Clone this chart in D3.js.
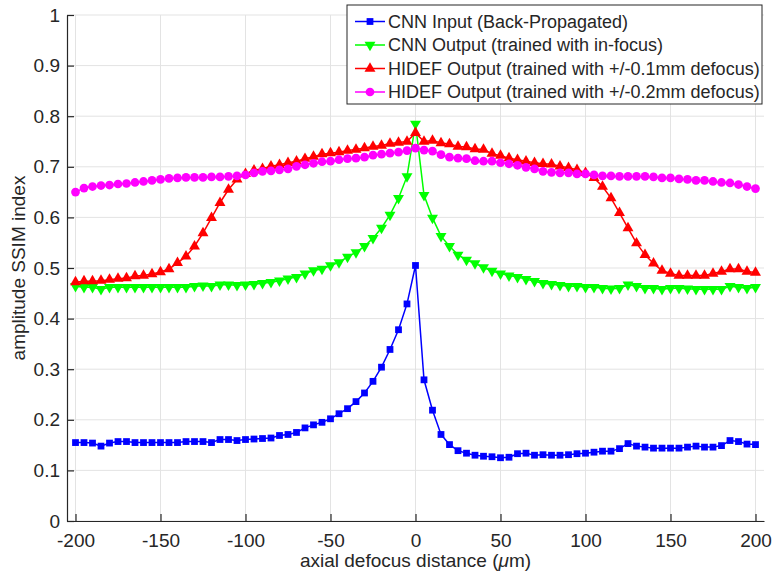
<!DOCTYPE html>
<html>
<head>
<meta charset="utf-8">
<script src="https://cdn.jsdelivr.net/npm/d3@7"></script>
<style>
  body { margin: 0; background: #fff; }
  text { font-family: "Liberation Sans", Arial, sans-serif; fill: #262626; }
</style>
</head>
<body>
<script>
// axial defocus positions (um)
var defocus = [-200,-195,-190,-185,-180,-175,-170,-165,-160,-155,-150,-145,-140,-135,-130,-125,-120,-115,-110,-105,
  -100,-95,-90,-85,-80,-75,-70,-65,-60,-55,-50,-45,-40,-35,-30,-25,-20,-15,-10,-5,
  0,5,10,15,20,25,30,35,40,45,50,55,60,65,70,75,80,85,90,95,
  100,105,110,115,120,125,130,135,140,145,150,155,160,165,170,175,180,185,190,195,200];

var cnnInput = [.155,.155,.154,.148,.154,.157,.157,.155,.155,.155,.155,.155,.155,.157,.157,.157,.155,.161,.161,.159,
  .161,.162,.163,.164,.169,.171,.175,.184,.190,.195,.202,.212,.222,.236,.253,.276,.304,.339,.378,.429,
  .505,.279,.219,.171,.151,.139,.134,.130,.128,.127,.125,.126,.133,.134,.130,.131,.130,.130,.131,.133,
  .134,.136,.138,.138,.143,.153,.148,.146,.144,.144,.144,.144,.146,.148,.146,.146,.149,.159,.157,.152,.151];

var cnnOutput = [.464,.462,.462,.458,.462,.462,.462,.462,.462,.462,.462,.462,.462,.462,.464,.465,.464,.467,.467,.466,
  .467,.468,.470,.472,.475,.479,.482,.489,.495,.498,.505,.511,.522,.531,.543,.559,.579,.605,.638,.681,
  .785,.644,.599,.563,.543,.526,.516,.509,.501,.494,.489,.485,.482,.478,.474,.470,.468,.466,.464,.464,
  .462,.462,.460,.459,.460,.467,.464,.460,.460,.458,.460,.460,.459,.458,.458,.458,.458,.464,.462,.460,.462];

var hidef01 = [.472,.474,.474,.475,.477,.479,.480,.484,.485,.488,.492,.498,.510,.523,.543,.569,.599,.629,.655,.675,
  .686,.693,.696,.701,.704,.708,.711,.716,.720,.725,.727,.729,.732,.734,.737,.740,.742,.746,.748,.750,
  .767,.750,.752,.747,.745,.740,.739,.735,.734,.726,.722,.717,.714,.711,.708,.706,.705,.701,.698,.694,
  .688,.678,.661,.638,.609,.579,.549,.526,.509,.495,.489,.485,.485,.485,.485,.489,.493,.498,.498,.493,.491];

var hidef02 = [.650,.658,.661,.663,.664,.666,.667,.669,.671,.673,.675,.677,.678,.679,.679,.679,.680,.680,.681,.682,
  .684,.688,.691,.692,.694,.696,.701,.704,.707,.710,.711,.714,.716,.717,.719,.723,.725,.727,.729,.732,
  .737,.733,.731,.724,.719,.717,.716,.712,.711,.711,.708,.706,.703,.699,.696,.691,.689,.688,.688,.686,
  .686,.684,.682,.682,.681,.681,.681,.681,.680,.678,.678,.676,.675,.673,.673,.671,.669,.668,.665,.661,.657];

var seriesNames = ["CNN Input (Back-Propagated)", "CNN Output (trained with in-focus)",
  "HIDEF Output (trained with +/-0.1mm defocus)", "HIDEF Output (trained with +/-0.2mm defocus)"];
var seriesColors = ["#0000ff", "#00ff00", "#ff0000", "#ff00ff"];

var xTicks = [-200,-150,-100,-50,0,50,100,150,200];
var yTicks = [0,0.1,0.2,0.3,0.4,0.5,0.6,0.7,0.8,0.9,1];

window.onload = function() {
  var margin = {top: 15, right: 8, bottom: 61, left: 67};
  var width = 772 - margin.left - margin.right;
  var height = 582 - margin.top - margin.bottom;

  var svg = d3.select("body").append("svg")
    .attr("width", 772)
    .attr("height", 582)
    .append("g")
    .attr("transform", "translate(" + margin.left + "," + margin.top + ")");

  var x = d3.scaleLinear().domain([-205, 205]).range([0, width]);
  var y = d3.scaleLinear().domain([0, 1]).range([height, 0]);

  // grid
  svg.append("g").selectAll("line.gx")
    .data(xTicks).enter().append("line")
    .attr("x1", function(d) { return x(d); }).attr("x2", function(d) { return x(d); })
    .attr("y1", 0).attr("y2", height)
    .attr("stroke", "#e3e3e3").attr("stroke-width", 1);
  svg.append("g").selectAll("line.gy")
    .data(yTicks).enter().append("line")
    .attr("x1", 0).attr("x2", width)
    .attr("y1", function(d) { return y(d); }).attr("y2", function(d) { return y(d); })
    .attr("stroke", "#e3e3e3").attr("stroke-width", 1);

  // axes (matlab style: ticks inside, plain hyphen minus)
  var xAxis = svg.append("g")
    .attr("transform", "translate(0," + height + ")")
    .call(d3.axisBottom(x).tickValues(xTicks).tickSizeInner(-7).tickSizeOuter(0).tickPadding(13)
      .tickFormat(function(d) { return String(d); }));
  var yAxis = svg.append("g")
    .call(d3.axisLeft(y).tickValues(yTicks).tickSizeInner(-7).tickSizeOuter(0).tickPadding(7)
      .tickFormat(function(d) { return d === 0 || d === 1 ? String(d) : d3.format(".1f")(d); }));
  [xAxis, yAxis].forEach(function(a) {
    a.select(".domain").attr("stroke", "#262626").attr("stroke-width", 1.2);
    a.selectAll(".tick line").attr("stroke", "#262626").attr("stroke-width", 1.2);
    a.selectAll(".tick text").style("font-size", "19px").attr("fill", "#262626")
      .style("font-family", "'Liberation Sans', Arial, sans-serif");
  });

  // series
  var allSeries = [cnnInput, cnnOutput, hidef01, hidef02];
  var symbols = [
    d3.symbol().type(d3.symbolSquare).size(46),
    d3.symbol().type(d3.symbolTriangle).size(52),
    d3.symbol().type(d3.symbolTriangle).size(52),
    d3.symbol().type(d3.symbolCircle).size(60)
  ];
  var rotations = [0, 180, 0, 0];

  var line = d3.line()
    .x(function(d) { return x(d[0]); })
    .y(function(d) { return y(d[1]); });

  allSeries.forEach(function(vals, k) {
    var pts = defocus.map(function(d, i) { return [d, vals[i]]; });
    var g = svg.append("g");
    g.append("path")
      .datum(pts)
      .attr("d", line)
      .attr("fill", "none")
      .attr("stroke", seriesColors[k])
      .attr("stroke-width", 1.5);
    g.selectAll("path.m")
      .data(pts).enter().append("path")
      .attr("class", "m")
      .attr("d", symbols[k])
      .attr("transform", function(d) {
        return "translate(" + x(d[0]) + "," + y(d[1]) + ") rotate(" + rotations[k] + ")"; })
      .attr("fill", seriesColors[k]);
  });

  // axis labels
  var xl = svg.append("text")
    .attr("x", width / 2)
    .attr("y", height + 46)
    .attr("text-anchor", "middle")
    .style("font-size", "19px");
  xl.append("tspan").text("axial defocus distance (");
  xl.append("tspan").style("font-style", "italic").text("\u03bc");
  xl.append("tspan").text("m)");

  svg.append("text")
    .attr("transform", "translate(" + (-42) + "," + (height / 2) + ") rotate(-90)")
    .attr("text-anchor", "middle")
    .style("font-size", "19px")
    .text("amplitude SSIM index");

  // legend
  var legend = svg.append("g").attr("transform", "translate(" + (347 - margin.left) + "," + (5 - margin.top) + ")");
  legend.append("rect")
    .attr("x", 0).attr("y", 0)
    .attr("width", 415).attr("height", 99)
    .attr("fill", "#fff").attr("stroke", "#262626").attr("stroke-width", 1);
  seriesNames.forEach(function(name, k) {
    var ry = 16.5 + k * 23.5;
    legend.append("line")
      .attr("x1", 8).attr("x2", 38).attr("y1", ry).attr("y2", ry)
      .attr("stroke", seriesColors[k]).attr("stroke-width", 1.5);
    legend.append("path")
      .attr("d", symbols[k])
      .attr("transform", "translate(23," + ry + ") rotate(" + rotations[k] + ")")
      .attr("fill", seriesColors[k]);
    legend.append("text")
      .attr("x", 41).attr("y", ry)
      .attr("dy", "0.35em")
      .style("font-size", "18px")
      .text(name);
  });
};
</script>
</body>
</html>
